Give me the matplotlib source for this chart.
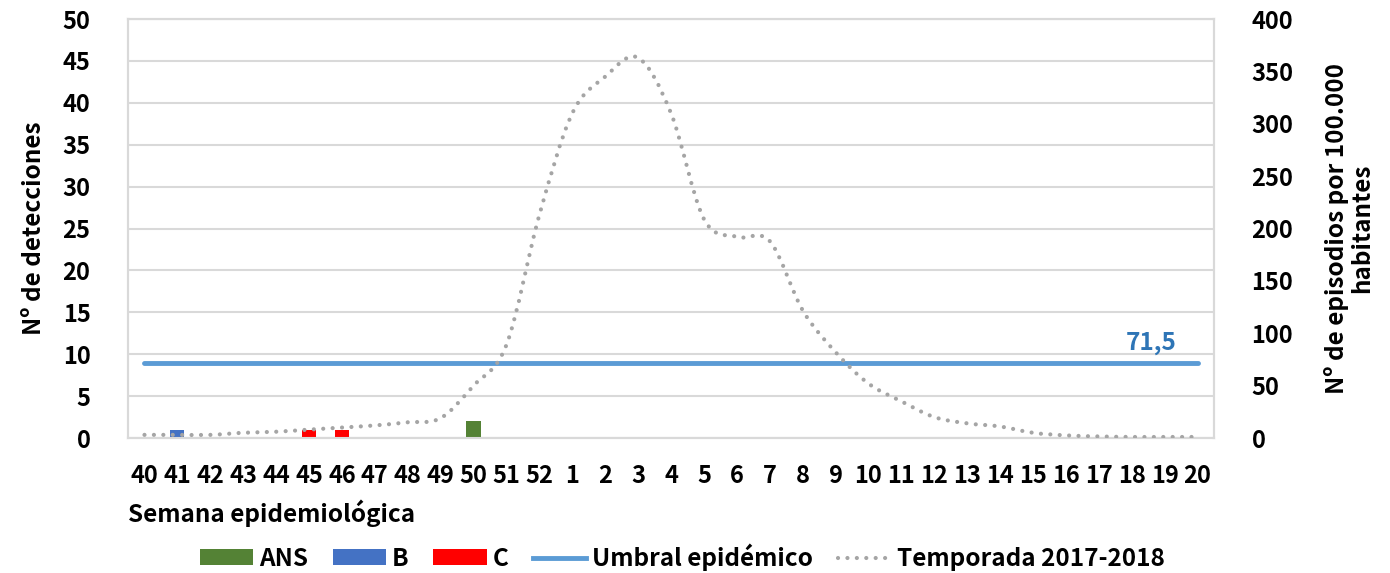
import matplotlib
matplotlib.use("Agg")
import matplotlib.pyplot as plt
import numpy as np
from matplotlib.path import Path
from matplotlib.patches import PathPatch, Patch
from matplotlib.lines import Line2D

FAM = ['Noto Sans CJK SC', 'DejaVu Sans']
plt.rcParams['font.family'] = FAM

# semanas epidemiologicas (40 a 52, 1 a 20)
weeks = [str(w) for w in range(40, 53)] + [str(w) for w in range(1, 21)]

# detecciones por tipo (eje izquierdo)
ans = [0, 0, 0, 0, 0, 0, 0, 0, 0, 0, 2, 0, 0,
       0, 0, 0, 0, 0, 0, 0, 0, 0, 0, 0, 0, 0, 0, 0, 0, 0, 0, 0, 0]
b = [0, 1, 0, 0, 0, 0, 0, 0, 0, 0, 0, 0, 0,
     0, 0, 0, 0, 0, 0, 0, 0, 0, 0, 0, 0, 0, 0, 0, 0, 0, 0, 0, 0]
c = [0, 0, 0, 0, 0, 1, 1, 0, 0, 0, 0, 0, 0,
     0, 0, 0, 0, 0, 0, 0, 0, 0, 0, 0, 0, 0, 0, 0, 0, 0, 0, 0, 0]

# tasa por 100.000 habitantes, temporada 2017-2018 (eje derecho)
temporada = [3, 3, 3, 5, 6, 8, 10, 12, 15, 19, 50, 89, 213,
             310, 345, 363, 310, 209, 192, 188, 122, 82, 52, 35, 20, 14,
             11, 5, 2.5, 1.5, 1, 1, 1]
umbral = 71.5

col_ans = '#548235'
col_b = '#4472C4'
col_c = '#FF0000'
col_umbral = '#5B9BD5'
col_temp = '#A5A5A5'
col_grid = '#D9D9D9'
FS = 17
FL = 17.5


def smooth_path(xs, ys):
    # curva suavizada tipo Excel (bezier cubica)
    pts = np.column_stack([xs, ys]).astype(float)
    n = len(pts)
    verts = [pts[0]]
    codes = [Path.MOVETO]
    for i in range(n - 1):
        p0 = pts[max(i - 1, 0)]
        p1 = pts[i]
        p2 = pts[i + 1]
        p3 = pts[min(i + 2, n - 1)]
        verts += [p1 + (p2 - p0) / 6.0, p2 - (p3 - p1) / 6.0, p2]
        codes += [Path.CURVE4] * 3
    return Path(verts, codes)


fig = plt.figure(figsize=(13.9, 5.73), dpi=100)
ax = fig.add_axes([0.0921, 0.2356, 0.7813, 0.7312])
ax2 = ax.twinx()

x = np.arange(len(weeks))
w = 0.43
ax.bar(x, ans, width=w, color=col_ans, zorder=3)
ax.bar(x, b, width=w, color=col_b, zorder=3)
ax.bar(x, c, width=w, color=col_c, zorder=3)

ax.set_xlim(-0.5, len(weeks) - 0.5)
ax.set_ylim(0, 50)
ax.set_yticks(range(0, 51, 5))
ax.set_xticks(x)
ax.set_xticklabels(weeks)
ax.grid(axis='y', color=col_grid, linewidth=1.5, zorder=0)
ax.set_axisbelow(True)

ax2.set_ylim(0, 400)
ax2.set_yticks(range(0, 401, 50))
ax2.plot(x, [umbral] * len(x), color=col_umbral, linewidth=3.5,
         solid_capstyle='round', zorder=3)
patch = PathPatch(smooth_path(x, temporada), fill=False, edgecolor=col_temp,
                  linewidth=3.0, linestyle=(0, (0.01, 2.25)),
                  capstyle='round', zorder=4)
ax2.add_patch(patch)
ax2.annotate('71,5', xy=(30.6, umbral), xytext=(0, 6), textcoords='offset points',
             ha='center', va='bottom', color='#2E75B6', fontsize=FL,
             fontweight='bold', family=FAM)

for a in (ax, ax2):
    for s in a.spines.values():
        s.set_color(col_grid)
        s.set_linewidth(1.5)
    a.tick_params(length=0, labelsize=FS)
    for lab in a.get_xticklabels() + a.get_yticklabels():
        lab.set_fontweight('bold')

ax.tick_params(axis='x', pad=19)
ax.tick_params(axis='y', pad=27)
ax2.tick_params(axis='y', pad=27)

ax.set_ylabel('Nº de detecciones', fontsize=FL, fontweight='bold', labelpad=12)
ax2.set_ylabel('Nº de episodios por 100.000\nhabitantes', fontsize=FL,
               fontweight='bold', labelpad=22, multialignment='center',
               linespacing=1.05)
ax.set_xlabel('Semana epidemiológica', fontsize=FL, fontweight='bold',
              loc='left', labelpad=8)

handles = [
    Patch(facecolor=col_ans, label='ANS'),
    Patch(facecolor=col_b, label='B'),
    Patch(facecolor=col_c, label='C'),
    Line2D([], [], color=col_umbral, linewidth=3.5, label='Umbral epidémico'),
    Line2D([], [], color=col_temp, linewidth=3.0, linestyle=(0, (0.01, 2.25)),
           dash_capstyle='round', label='Temporada 2017-2018'),
]
fig.legend(handles=handles, loc='center', bbox_to_anchor=(0.491, 0.028), ncol=5,
           frameon=False, prop={'family': FAM, 'weight': 'bold', 'size': FL},
           handlelength=2.2, handleheight=0.6, columnspacing=1.0,
           handletextpad=0.25)

fig.savefig('out.png', dpi=100)
